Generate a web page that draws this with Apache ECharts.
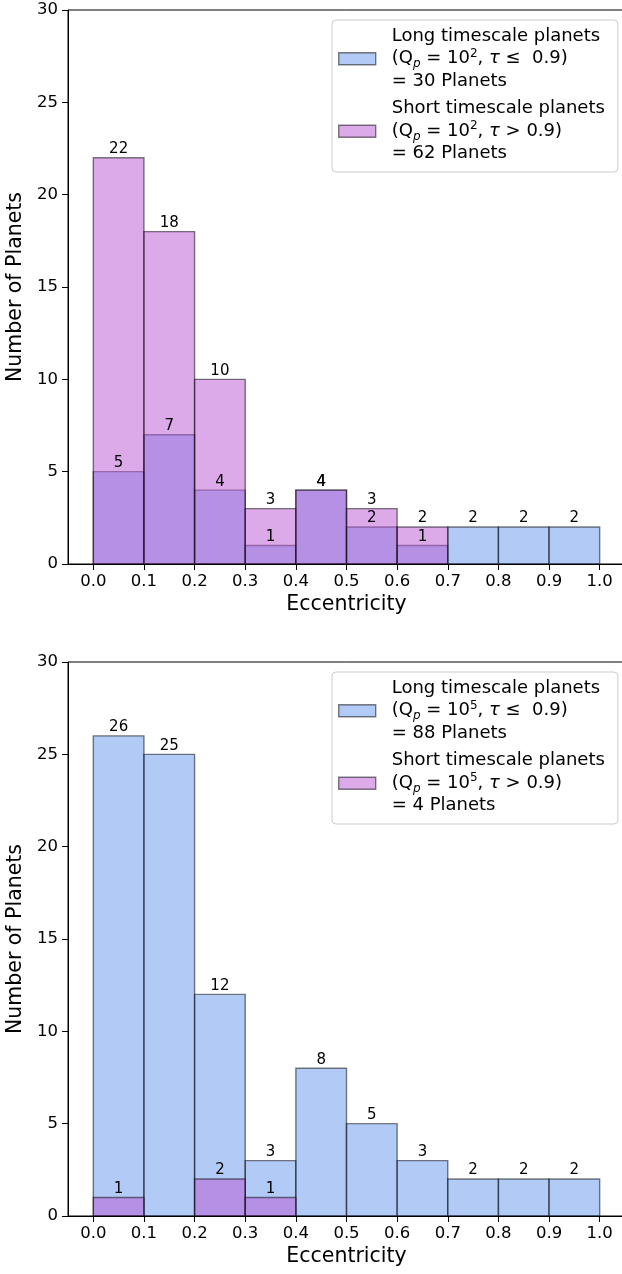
<!DOCTYPE html>
<html>
<head>
<meta charset="utf-8">
<script src="https://cdn.jsdelivr.net/npm/echarts@6/dist/echarts.min.js"></script>
<style>
html,body{margin:0;padding:0;background:#fff;}
#chart{width:622px;height:1274px;}
</style>
</head>
<body>
<div id="chart"></div>
<script>
// ---- data ----
const binEdges = [0.0, 0.1, 0.2, 0.3, 0.4, 0.5, 0.6, 0.7, 0.8, 0.9, 1.0];
const xTickValues = [0.0, 0.1, 0.2, 0.3, 0.4, 0.5, 0.6, 0.7, 0.8, 0.9, 1.0];
const yTickValues = [0, 5, 10, 15, 20, 25, 30];

const longCountsQ2  = [5, 7, 4, 1, 4, 2, 1, 2, 2, 2];
const shortCountsQ2 = [22, 18, 10, 3, 4, 3, 2, 0, 0, 0];
const longCountsQ5  = [26, 25, 12, 3, 8, 5, 3, 2, 2, 2];
const shortCountsQ5 = [1, 0, 2, 1, 0, 0, 0, 0, 0, 0];

const legendLongQ2  = ['Long timescale planets', '(Q{sub|p} = 10{sup|2}, {it|τ} ≤  0.9)', '= 30 Planets'];
const legendShortQ2 = ['Short timescale planets', '(Q{sub|p} = 10{sup|2}, {it|τ} > 0.9)', '= 62 Planets'];
const legendLongQ5  = ['Long timescale planets', '(Q{sub|p} = 10{sup|5}, {it|τ} ≤  0.9)', '= 88 Planets'];
const legendShortQ5 = ['Short timescale planets', '(Q{sub|p} = 10{sup|5}, {it|τ} > 0.9)', '= 4 Planets'];

const xAxisTitle = 'Eccentricity';
const yAxisTitle = 'Number of Planets';

// ---- styles ----
const FONT = 'DejaVu Sans';
const BLUE = 'rgba(100,149,237,0.5)';
const PURPLE = 'rgba(186,85,211,0.5)';
const EDGE = 'rgba(0,0,0,0.5)';

function toBins(counts) {
  return counts.map((c, i) => [binEdges[i], binEdges[i + 1], c]);
}

function barRender(fill) {
  return function (params, api) {
    const x0 = api.value(0), x1 = api.value(1), v = api.value(2);
    if (!v) return null;
    const p0 = api.coord([x0, v]);
    const p1 = api.coord([x1, 0]);
    return {
      type: 'rect',
      shape: { x: p0[0], y: p0[1], width: p1[0] - p0[0], height: p1[1] - p0[1] },
      style: { fill: fill, stroke: EDGE, lineWidth: 1.4 }
    };
  };
}

function labelRender(params, api) {
  const x0 = api.value(0), x1 = api.value(1), v = api.value(2);
  if (!v) return null;
  const p0 = api.coord([x0, v]);
  const p1 = api.coord([x1, 0]);
  return {
    type: 'text',
    style: {
      text: String(v), x: (p0[0] + p1[0]) / 2, y: p0[1] - 1,
      align: 'center', verticalAlign: 'bottom',
      fontSize: 15, fontFamily: FONT, fill: '#000'
    }
  };
}

const legendMap = {
  long1: legendLongQ2.join('\n'),
  short1: legendShortQ2.join('\n'),
  long2: legendLongQ5.join('\n'),
  short2: legendShortQ5.join('\n')
};

function makeLegend(top, names) {
  return {
    left: 332, top: top, orient: 'vertical',
    itemWidth: 37, itemHeight: 12, itemGap: 5,
    padding: [5, 13, 7, 6],
    backgroundColor: 'rgba(255,255,255,0.8)',
    borderColor: '#cccccc', borderWidth: 1, borderRadius: 4,
    selectedMode: false,
    data: [
      { name: names[0], icon: 'rect', itemStyle: { color: BLUE, borderColor: EDGE, borderWidth: 1.4 } },
      { name: names[1], icon: 'rect', itemStyle: { color: PURPLE, borderColor: EDGE, borderWidth: 1.4 } }
    ],
    formatter: n => legendMap[n],
    textStyle: {
      color: '#000', fontSize: 18, fontFamily: FONT, lineHeight: 22.5,
      padding: [0, 0, 0, 11],
      rich: {
        sub: { fontSize: 12, fontFamily: FONT, fontStyle: 'italic', lineHeight: 13, verticalAlign: 'bottom', color: '#000' },
        sup: { fontSize: 12, fontFamily: FONT, lineHeight: 13, verticalAlign: 'top', color: '#000' },
        it: { fontSize: 18, fontFamily: FONT, fontStyle: 'italic', lineHeight: 22.5, color: '#000' }
      }
    }
  };
}

function makeGrid(top) {
  return {
    left: 68, top: top, width: 557, height: 554,
    show: true, borderColor: '#000', borderWidth: 1, backgroundColor: 'transparent',
    containLabel: false, outerBoundsMode: 'none'
  };
}

function makeXAxis(idx) {
  return {
    gridIndex: idx, type: 'value', min: -0.05, max: 1.05,
    name: xAxisTitle, nameLocation: 'middle', nameGap: 30,
    nameTextStyle: { fontSize: 20.5, fontFamily: FONT, color: '#000' },
    axisLine: { show: true, onZero: false, lineStyle: { color: '#000', width: 1 } },
    axisTick: { show: true, length: 6, lineStyle: { color: '#000' }, customValues: xTickValues },
    axisLabel: {
      color: '#000', fontSize: 16.5, fontFamily: FONT, margin: 9,
      customValues: xTickValues, formatter: v => v.toFixed(1)
    },
    splitLine: { show: false }
  };
}

function makeYAxis(idx) {
  return {
    gridIndex: idx, type: 'value', min: 0, max: 30, interval: 5,
    name: yAxisTitle, nameLocation: 'middle', nameGap: 41,
    nameTextStyle: { fontSize: 20.5, fontFamily: FONT, color: '#000' },
    axisLine: { show: true, onZero: false, lineStyle: { color: '#000', width: 1 } },
    axisTick: { show: true, length: 6, lineStyle: { color: '#000' }, customValues: yTickValues },
    axisLabel: { color: '#000', fontSize: 16.5, fontFamily: FONT, margin: 10, customValues: yTickValues },
    splitLine: { show: false }
  };
}

function barSeries(name, idx, counts, fill, z) {
  return {
    name: name, type: 'custom', coordinateSystem: 'cartesian2d',
    xAxisIndex: idx, yAxisIndex: idx, z: z, silent: true,
    itemStyle: { color: fill, borderColor: EDGE, borderWidth: 1.4 },
    encode: { x: [0, 1], y: 2 },
    data: toBins(counts),
    renderItem: barRender(fill)
  };
}

function labelSeries(name, idx, counts) {
  return {
    name: name, type: 'custom', coordinateSystem: 'cartesian2d',
    xAxisIndex: idx, yAxisIndex: idx, z: 10, silent: true,
    encode: { x: [0, 1], y: 2 },
    data: toBins(counts),
    renderItem: labelRender
  };
}

const chart = echarts.init(document.getElementById('chart'), null, { renderer: 'canvas' });
chart.setOption({
  animation: false,
  backgroundColor: '#fff',
  grid: [makeGrid(10), makeGrid(662)],
  xAxis: [makeXAxis(0), makeXAxis(1)],
  yAxis: [makeYAxis(0), makeYAxis(1)],
  legend: [makeLegend(20, ['long1', 'short1']), makeLegend(672, ['long2', 'short2'])],
  series: [
    barSeries('long1', 0, longCountsQ2, BLUE, 2),
    barSeries('short1', 0, shortCountsQ2, PURPLE, 3),
    labelSeries('long1 labels', 0, longCountsQ2),
    labelSeries('short1 labels', 0, shortCountsQ2),
    barSeries('long2', 1, longCountsQ5, BLUE, 2),
    barSeries('short2', 1, shortCountsQ5, PURPLE, 3),
    labelSeries('long2 labels', 1, longCountsQ5),
    labelSeries('short2 labels', 1, shortCountsQ5)
  ]
});
</script>
</body>
</html>
